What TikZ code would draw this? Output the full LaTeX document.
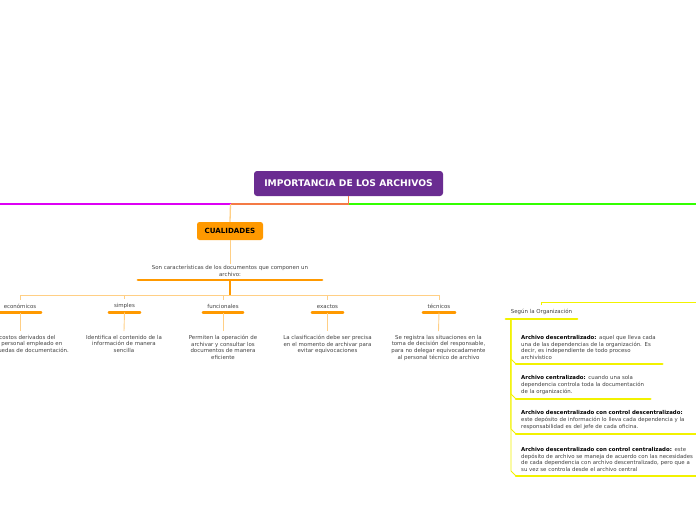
\documentclass[tikz,border=0pt]{standalone}
\usepackage{fontspec}
\setmainfont{DejaVu Sans}
\usetikzlibrary{calc}
\definecolor{titlepurple}{HTML}{6A2C91}
\definecolor{orangemain}{HTML}{FF9900}
\definecolor{orangelight}{HTML}{FFCF85}
\definecolor{salmon}{HTML}{F47A45}
\definecolor{greenline}{HTML}{33FF00}
\definecolor{magentaline}{HTML}{DD00F5}
\definecolor{yellowline}{HTML}{F2F200}
\definecolor{textgray}{HTML}{404040}
\begin{document}
\begin{tikzpicture}[x=1pt,y=-1pt,
  titlebox/.style={fill=titlepurple, rounded corners=3pt, text=white, font=\fontsize{9.2}{10}\selectfont\bfseries, minimum width=189pt, minimum height=25pt, inner sep=0pt},
  cualbox/.style={fill=orangemain, rounded corners=2.5pt, text=black, font=\fontsize{7.1}{8}\selectfont\bfseries, minimum width=66pt, minimum height=18pt, inner sep=0pt},
  smalltxt/.style={font=\fontsize{5.45}{6.6}\selectfont, text=textgray, align=center, inner sep=0pt},
  topic/.style={font=\fontsize{5.45}{6.6}\selectfont, text=textgray, align=center, inner xsep=0pt, inner ysep=4pt, anchor=south},
  ytopic/.style={font=\fontsize{5.4}{6.6}\selectfont, text=textgray, align=left, inner xsep=5pt, inner ysep=4.5pt, anchor=south west},
  oul/.style={draw=orangemain, line width=2.2pt, line cap=round},
  yul/.style={draw=yellowline, line width=2.4pt, line cap=round},
  lconn/.style={draw=orangelight, line width=0.9pt},
  yconn/.style={draw=yellowline, line width=0.9pt},
]
\useasboundingbox (0,0) rectangle (696,520);
\clip (0,0) rectangle (696,520);

% title and main branches
\node[titlebox] (title) at (348.5,183.5) {IMPORTANCIA DE LOS ARCHIVOS};
\node[cualbox] (cual) at (230,231) {CUALIDADES};
\coordinate (gR) at (700,204);
\coordinate (jn) at (230.5,204);
\coordinate (mL) at (-4,204);
\draw[greenline, line width=1.1pt] (title.south) |- (gR);
\draw[magentaline, line width=1.3pt] (jn) -- (mL);
\draw[salmon, line width=1.3pt] (title.south) |- (jn);
\draw[orangelight, line width=1.3pt] (jn) -- (cual.north);

% description of cualidades
\node[smalltxt, minimum width=184pt, anchor=south, inner ysep=3.5pt] (desc) at (230,280) {Son características de los documentos que componen un\\archivo:};
\draw[oul] (desc.south west) -- (desc.south east);
\draw[lconn] (cual.south) -- ($(desc.north)+(0,2)$);

% children
\node[topic, minimum width=42pt] (eco) at (20,312.5) {económicos};
\node[topic, minimum width=31pt] (sim) at (124.5,312.5) {simples};
\node[topic, minimum width=40pt] (fun) at (223,312.5) {funcionales};
\node[topic, minimum width=31pt] (exa) at (327.5,312.5) {exactos};
\node[topic, minimum width=32pt] (tec) at (439,312.5) {técnicos};
\foreach \n in {eco,sim,fun,exa,tec} {\draw[oul] (\n.south west) -- (\n.south east);}

\coordinate (hub) at (230,295.5);
\draw[orangemain, line width=1.4pt] (desc.south) -- (hub);
\foreach \n in {eco,sim,fun,exa,tec} {\draw[lconn] (hub) -| (\n.north);}

% descriptions
\node[smalltxt, anchor=north] (ecod) at (18,335) {Evitan costos derivados del\\gasto por personal empleado en\\en las búsquedas de documentación.};
\node[smalltxt, anchor=north] (simd) at (124,335) {Identifica el contenido de la\\información de manera\\sencilla};
\node[smalltxt, anchor=north] (fund) at (223,335) {Permiten la operación de\\archivar y consultar los\\documentos de manera\\eficiente};
\node[smalltxt, anchor=north] (exad) at (327.5,335) {La clasificación debe ser precisa\\en el momento de archivar para\\evitar equivocaciones};
\node[smalltxt, anchor=north] (tecd) at (438.5,335) {Se registra las situaciones en la\\toma de decisión del responsable,\\para no delegar equivocadamente\\al personal técnico de archivo};
\draw[lconn] (eco.south) -- (20,331);
\foreach \n in {sim,fun,exa,tec} {\draw[lconn] (\n.south) -- ($(\n d.north)+(0,-4)$);}

% right branch: Segun la Organizacion
\node[topic, minimum width=71pt] (seg) at (541.5,319) {Según la Organización};
\draw[yul] (seg.south west) -- (seg.south east);
\coordinate (yR) at (700,302);
\draw[yconn] (seg.north) |- (yR);

\node[ytopic, text width=136pt] (c1) at (516,364) {\textbf{\color{black}Archivo descentralizado:} aquel que lleva cada\\una de las dependencias de la organización. Es\\decir, es independiente de todo proceso\\archivístico};
\node[ytopic, text width=124pt] (c2) at (516,399) {\textbf{\color{black}Archivo centralizado:} cuando una sola\\dependencia controla toda la documentación\\de la organización.};
\node[ytopic, text width=185pt] (c3) at (516,434) {\textbf{\color{black}Archivo descentralizado con control descentralizado:}\\este depósito de información lo lleva cada dependencia y la\\responsabilidad es del jefe de cada oficina.};
\node[ytopic, text width=185pt] (c4) at (516,476) {\textbf{\color{black}Archivo descentralizado con control centralizado:} este\\depósito de archivo se maneja de acuerdo con las necesidades\\de cada dependencia con archivo descentralizado, pero que a\\su vez se controla desde el archivo central};
\foreach \n in {c1,c2,c3,c4} {
  \draw[yul] (\n.south west) -- (\n.south east);
  \draw[yconn] ($(seg.south west)+(5,1)$) -- ($(\n.south west)+(-5,-5)$) -- (\n.south west);
}
\end{tikzpicture}
\end{document}
